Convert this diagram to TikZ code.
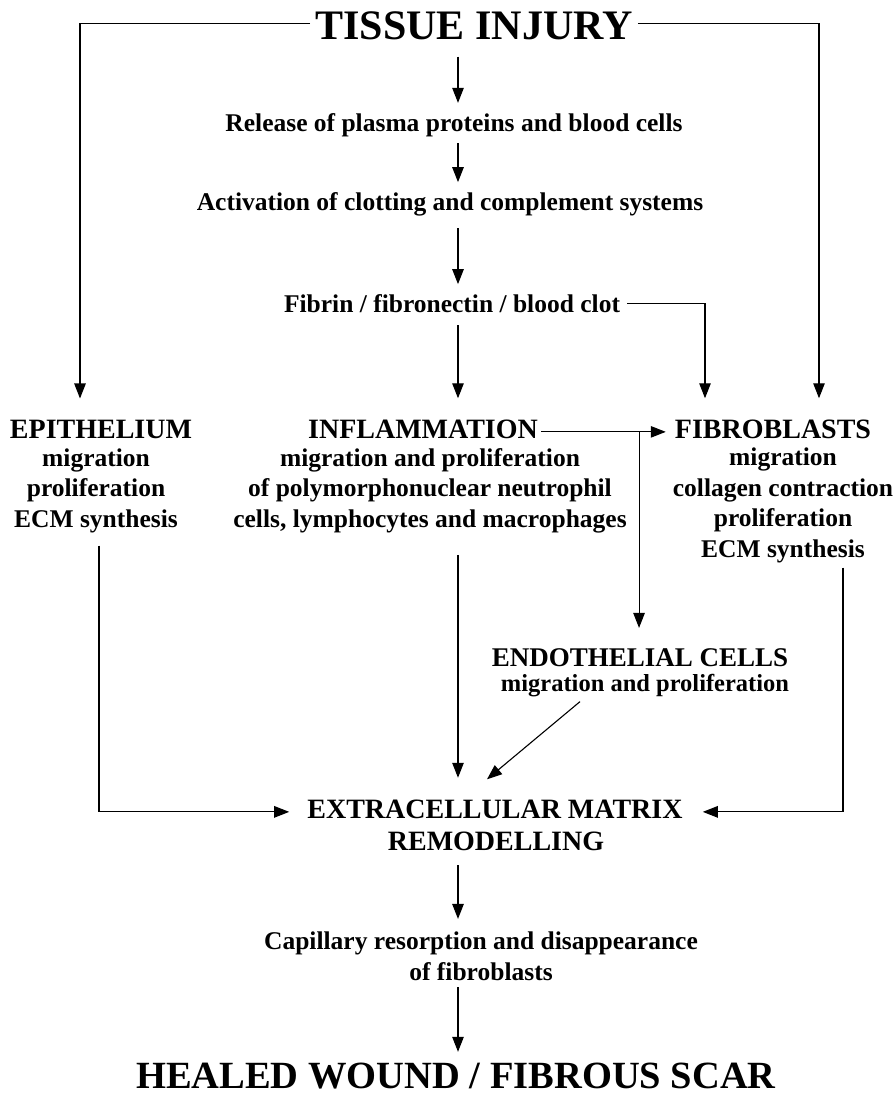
\documentclass[tikz,border=0pt]{standalone}
\usepackage{fontspec}
\setmainfont{Liberation Serif}
\usetikzlibrary{arrows.meta,calc}
\definecolor{whink}{HTML}{000000}

\begin{document}
\begin{tikzpicture}[x=1pt, y=-1pt, text=whink,
    flow/.style={draw=whink, line width=1.1pt, -{Triangle[length=15pt, width=11.5pt]}},
    maintitle/.style={inner sep=0pt, anchor=base, font=\bfseries\fontsize{42}{46}\selectfont},
    head/.style={inner sep=0pt, anchor=base, font=\bfseries\fontsize{28}{32}\selectfont},
    note/.style={inner sep=0pt, anchor=base, align=center, font=\bfseries\fontsize{25.5}{30.5}\selectfont},
  ]
  \useasboundingbox (0,0) rectangle (892,1102);
  % the central arrows all run down this line
  \coordinate (trunk) at (458,0);

  % central chain
  \node[maintitle] (injury) at (474,40) {TISSUE INJURY};
  \node[note] (release) at (454,132) {Release of plasma proteins and blood cells};
  \node[note] (activation) at (450,210) {Activation of clotting and complement systems};
  \node[note] (clot) at (452,312) {Fibrin / fibronectin / blood clot};

  % cell populations (multi-line notes sit on their last baseline)
  \node[head] (epi) at (101,438) {EPITHELIUM};
  \node[note] (episub) at (96,527) {migration\\proliferation\\ECM synthesis};
  \node[head] (infl) at (423,438) {INFLAMMATION};
  \node[note] (inflsub) at (430,527)
    {migration and proliferation\\of polymorphonuclear neutrophil\\cells, lymphocytes and macrophages};
  \node[head] (fibro) at (773,438) {FIBROBLASTS};
  \node[note] (fibrosub) at (783,557)
    {migration\\collagen contraction\\proliferation\\ECM synthesis};
  \node[head, font=\bfseries\fontsize{27}{30}\selectfont] (endo) at (640,666) {ENDOTHELIAL CELLS};
  \node[note, font=\bfseries\fontsize{24.5}{28}\selectfont] (endosub) at (645,691) {migration and proliferation};

  % outcome
  \node[head] (ecm) at (495,818) {EXTRACELLULAR MATRIX};
  \node[head] (remod) at (496,850) {REMODELLING};
  \node[note] (capill) at (481,980) {Capillary resorption and disappearance\\of fibroblasts};
  \node[head, font=\bfseries\fontsize{38.5}{42}\selectfont] (scar) at (456,1088) {HEALED WOUND / FIBROUS SCAR};

  % down the middle
  \draw[flow, shorten <=16pt, shorten >=11pt] (injury.south -| trunk) -- (release.north -| trunk);
  \draw[flow, shorten <=5.5pt, shorten >=9.7pt] (release.south -| trunk) -- (activation.north -| trunk);
  \draw[flow, shorten <=12.5pt, shorten >=9.7pt] (activation.south -| trunk) -- (clot.north -| trunk);
  \draw[flow, shorten <=12.6pt, shorten >=21pt] (clot.south -| trunk) -- (infl.north -| trunk);

  % side branches from the injury and the clot
  \draw[flow, shorten <=5pt, shorten >=21pt] ([yshift=3pt]injury.west) -| ([xshift=-21pt]epi.north);
  \draw[flow, shorten <=5pt, shorten >=21pt] ([yshift=3pt]injury.east) -| ([xshift=46pt]fibro.north);
  \draw[flow, shorten <=7pt, shorten >=21pt] (clot.east) -| ([xshift=-68pt]fibro.north);

  % inflammation feeds fibroblasts and endothelium
  \draw[flow, shorten <=3pt, shorten >=9pt] ([yshift=-3pt]infl.east) -- ([yshift=-3pt]fibro.west);
  \coordinate (fork) at ([xshift=101pt, yshift=-3pt]infl.east);
  \draw[flow, shorten >=20pt] (fork) -- (endo.north -| fork);

  % everything converges on matrix remodelling
  \draw[flow, shorten <=13pt, shorten >=18pt] ([xshift=3pt]episub.south) |- ([yshift=-3pt]ecm.west);
  \draw[flow, shorten <=5pt, shorten >=20pt] ([xshift=60pt]fibrosub.south) |- ([yshift=-3pt]ecm.east);
  \draw[flow, shorten <=22pt, shorten >=21.5pt] (inflsub.south -| trunk) -- (ecm.north -| trunk);
  \draw[flow] ([xshift=-65pt, yshift=-5pt]endosub.south) -- ([xshift=-8pt, yshift=20pt]ecm.north);

  \draw[flow, shorten <=15pt, shorten >=12.7pt] (remod.south -| trunk) -- (capill.north -| trunk);
  \draw[flow, shorten <=7pt, shorten >=10.5pt] (capill.south -| trunk) -- (scar.north -| trunk);
\end{tikzpicture}
\end{document}
